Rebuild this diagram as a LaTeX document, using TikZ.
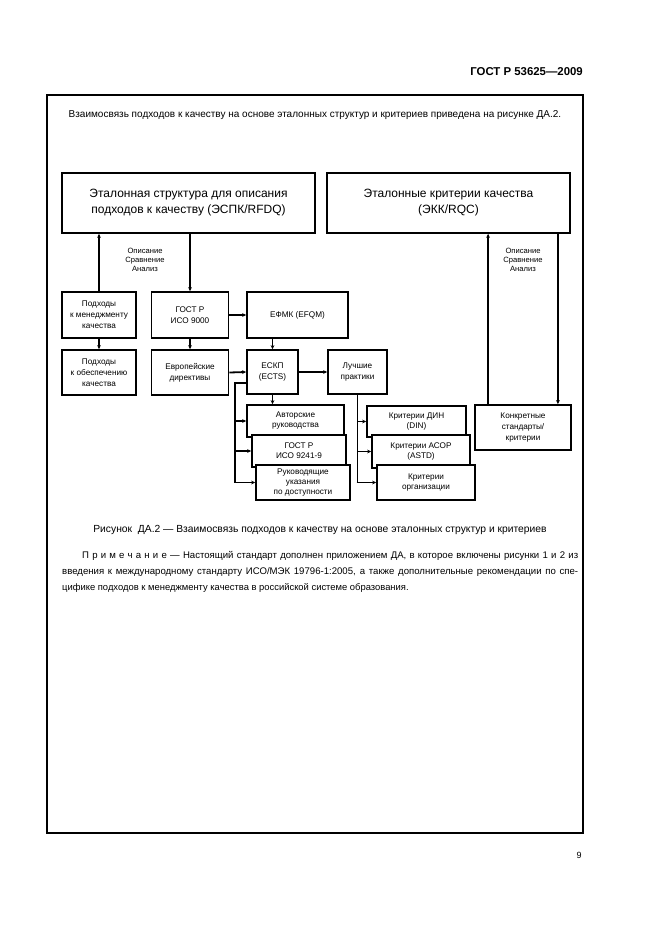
\documentclass[tikz,border=0pt]{standalone}
\usepackage{fontspec}
\setmainfont{Liberation Sans}
\usetikzlibrary{calc,arrows.meta}
\newcommand{\lsp}{\kern3.2pt}
\begin{document}
\begin{tikzpicture}[x=1pt,y=-1pt,
  box/.style={draw, line width=1.8pt, fill=white, inner sep=1pt, align=center,
    font=\fontsize{8.2}{11}\selectfont},
  tbox/.style={box, font=\fontsize{8.2}{10}\selectfont},
  bigbox/.style={box, font=\fontsize{12}{16}\selectfont},
  conn/.style={line width=1.8pt},
  arr/.style={line width=1.8pt, -{Stealth[length=4pt,width=3.8pt]}},
  lbl/.style={align=center, inner sep=0pt, font=\fontsize{7.6}{9}\selectfont},
  body/.style={inner sep=0pt, font=\fontsize{10}{12}\selectfont}]
\useasboundingbox (0,0) rectangle (661,936);
% header and frame
\node[anchor=east, inner sep=0pt, font=\fontsize{11.4}{13}\selectfont\bfseries] (hdr) at (583,72) {ГОСТ Р 53625—2009};
\draw[line width=1.2pt] (47,95) rectangle (583,833);
\node[body] (intro) at (315,115) {Взаимосвязь подходов к качеству на основе эталонных структур и критериев приведена на рисунке ДА.2.};
% big boxes
\node[bigbox, minimum width=253pt, minimum height=60pt] (ref1) at (188.5,203) {Эталонная структура для описания\\подходов к качеству (ЭСПК/RFDQ)};
\node[bigbox, minimum width=243pt, minimum height=60pt] (ref2) at (448.5,203) {Эталонные критерии качества\\(ЭКК/RQC)};
% row 1
\node[box, minimum width=74pt, minimum height=46pt] (pm) at (99,315) {Подходы\\к менеджменту\\качества};
\node[box, minimum width=77pt, minimum height=46pt] (gost) at (190,315) {ГОСТ Р\\ИСО 9000};
\node[box, minimum width=101pt, minimum height=46pt] (efqm) at (297.5,315) {ЕФМК (EFQM)};
% row 2
\node[box, minimum width=74pt, minimum height=45pt] (po) at (99,372.5) {Подходы\\к обеспечению\\качества};
\node[box, minimum width=77pt, minimum height=45pt] (euro) at (190,372.5) {Европейские\\директивы};
\node[box, minimum width=51pt, minimum height=44pt] (ects) at (272.5,372) {ЕСКП\\(ECTS)};
\node[box, minimum width=59pt, minimum height=44pt] (best) at (357.5,372) {Лучшие\\практики};
% stacked left
\node[tbox, minimum width=97pt, minimum height=32pt] (auth) at (295.5,421) {Авторские\\руководства};
\node[tbox, minimum width=94pt, minimum height=32pt] (g9241) at (299,451) {ГОСТ Р\\ИСО 9241-9};
\node[tbox, minimum width=94pt, minimum height=35pt] (guide) at (303,482.5) {Руководящие\\указания\\по доступности};
% stacked right
\node[tbox, minimum width=99pt, minimum height=31pt] (din) at (416.5,421.5) {Критерии ДИН\\(DIN)};
\node[tbox, minimum width=98pt, minimum height=33pt] (astd) at (421,451.5) {Критерии АСОР\\(ASTD)};
\node[tbox, minimum width=98pt, minimum height=35pt] (org) at (426,482.5) {Критерии\\организации};
\node[box, minimum width=96pt, minimum height=45pt] (konk) at (523,427.5) {Конкретные\\стандарты/\\критерии};
% labels
\node[lbl] (lab1) at (145,260) {Описание\\Сравнение\\Анализ};
\node[lbl] (lab2) at (523,260) {Описание\\Сравнение\\Анализ};
% connectors to big boxes
\draw[arr] (pm.north) -- (pm.north |- ref1.south);
\draw[arr] (gost.north |- ref1.south) -- (gost.north);
\coordinate (k1) at ($(konk.north west)+(14,0)$);
\coordinate (k2) at ($(konk.north east)+(-14,0)$);
\draw[arr] (k1) -- (k1 |- ref2.south);
\draw[arr] (k2 |- ref2.south) -- (k2);
% short links
\draw[arr] (pm.south) -- (po.north);
\draw[arr] (gost.south) -- (euro.north);
\draw[arr] (gost.east) -- (efqm.west);
\draw[arr] (ects.north |- efqm.south) -- (ects.north);
\draw[arr] (euro.east) -- (ects.west);
\draw[arr] (ects.east) -- (best.west);
\draw[arr] (ects.south) -- (ects.south |- auth.north);
% left bus
\coordinate (el) at ($(ects.west)+(0,11)$);
\coordinate (bl) at ($(el)+(-11,0)$);
\draw[conn] (el) -- (bl) -- (bl |- guide.west);
\draw[arr] (bl |- auth.west) -- (auth.west);
\draw[arr] (bl |- g9241.west) -- (g9241.west);
\draw[arr] ($(bl |- guide.west)+(-0.9,0)$) -- (guide.west);
% right bus
\draw[conn] (best.south) -- (best.south |- org.west);
\draw[arr] (best.south |- din.west) -- (din.west);
\draw[arr] (best.south |- astd.west) -- (astd.west);
\draw[arr] ($(best.south |- org.west)+(-0.9,0)$) -- (org.west);
% caption and note
\node[body, font=\fontsize{10.3}{12}\selectfont] (cap) at (320,530) {Рисунок\ \ ДА.2 — Взаимосвязь подходов к качеству на основе эталонных структур и критериев};
\node[body, anchor=base west, font=\fontsize{9.6}{12}\selectfont] (n1) at (82,558) {\makebox[496pt][s]{П\lsp р\lsp и\lsp м\lsp е\lsp ч\lsp а\lsp н\lsp и\lsp е — Настоящий стандарт дополнен приложением ДА, в которое включены рисунки 1 и 2 из}};
\node[body, anchor=base west, font=\fontsize{9.6}{12}\selectfont] (n2) at (62,574) {\makebox[516pt][s]{введения к международному стандарту ИСО/МЭК 19796-1:2005, а также дополнительные рекомендации по спе-}};
\node[body, anchor=base west, font=\fontsize{9.4}{12}\selectfont] (n3) at (62,590) {цифике подходов к менеджменту качества в российской системе образования.};
\node[inner sep=0pt, font=\fontsize{9}{11}\selectfont] (pg) at (579,855) {9};
\end{tikzpicture}
\end{document}
